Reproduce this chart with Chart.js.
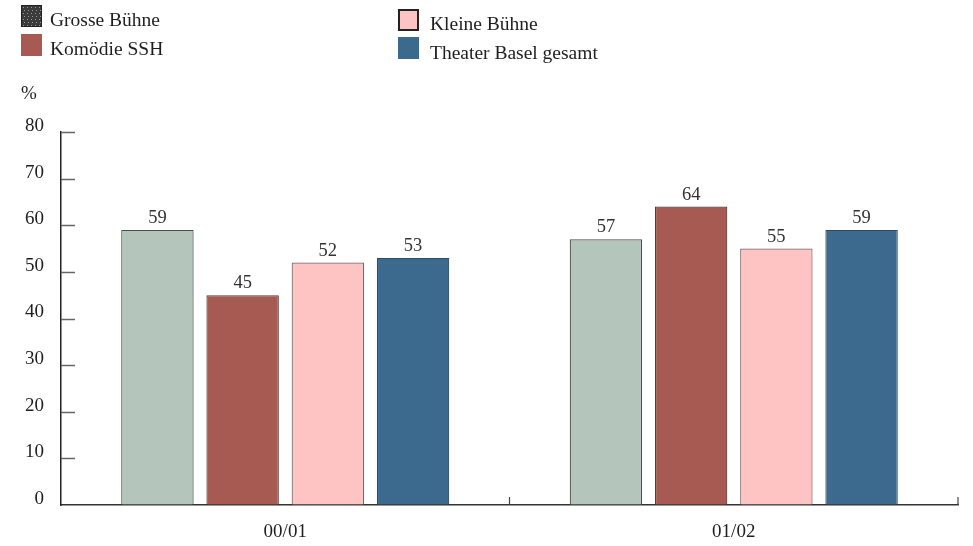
<!DOCTYPE html>
<html>
<head>
<meta charset="utf-8">
<script src="https://cdn.jsdelivr.net/npm/chart.js@4/dist/chart.umd.min.js"></script>
<style>
  html, body { margin: 0; padding: 0; background: #ffffff; }
  #wrap { width: 973px; height: 546px; }
</style>
</head>
<body>
<div id="wrap"><canvas id="c" width="973" height="546"></canvas></div>
<script>
// Saison-Kategorien und Auslastung in Prozent
const seasons = ['00/01', '01/02'];
const grosseBuehne = [59, 57];
const komoedieSSH = [45, 64];
const kleineBuehne = [52, 55];
const theaterGesamt = [53, 59];
const seriesNames = ['Grosse Bühne', 'Komödie SSH', 'Kleine Bühne', 'Theater Basel gesamt'];
const unitLabel = '%';

const SERIF = '"Liberation Serif", "Times New Roman", serif';
const barColors = ['#b4c5bc', '#a65a51', '#fec4c4', '#3c6a8f'];
const barBorders = ['#4a4f4c', '#5a3a36', '#7a6666', '#2f4a60'];
const swatchColors = ['#3b3b3b', '#a65a51', '#fec4c4', '#3c6a8f'];

// Legende in zwei Spalten, Werte über den Balken, Ticks nach innen
const decorations = {
  id: 'decorations',
  afterDraw(chart) {
    const ctx = chart.ctx;
    const area = chart.chartArea;
    const xs = chart.scales.x;
    const ys = chart.scales.y;
    ctx.save();

    // Legende
    const slots = [
      { bx: 21, by: 5, tx: 50, ty: 21 },
      { bx: 21, by: 34, tx: 50, ty: 50 },
      { bx: 398, by: 9, tx: 430, ty: 25 },
      { bx: 398, by: 37, tx: 430, ty: 54 }
    ];
    chart.data.datasets.forEach((ds, i) => {
      const s = slots[i];
      ctx.fillStyle = swatchColors[i];
      ctx.fillRect(s.bx, s.by, 21, 22);
      if (i === 0) {
        // gesprenkelte Füllung des Symbols
        ctx.fillStyle = '#9a9a9a';
        for (let yy = 2; yy < 21; yy += 3) {
          for (let xx = 2 + (yy % 2); xx < 20; xx += 4) {
            ctx.fillRect(s.bx + xx, s.by + yy, 1, 1);
          }
        }
        ctx.strokeStyle = '#222';
        ctx.lineWidth = 1;
        ctx.strokeRect(s.bx + 0.5, s.by + 0.5, 20, 21);
      }
      if (i === 2) {
        ctx.strokeStyle = '#222';
        ctx.lineWidth = 2;
        ctx.strokeRect(s.bx + 1, s.by + 1, 19, 20);
      }
      ctx.fillStyle = '#1e1e1e';
      ctx.font = '19.5px ' + SERIF;
      ctx.textAlign = 'left';
      ctx.textBaseline = 'middle';
      ctx.fillText(ds.label, s.tx, s.ty);
    });

    // Einheit über der y-Achse
    ctx.fillStyle = '#1e1e1e';
    ctx.font = '19px ' + SERIF;
    ctx.textAlign = 'left';
    ctx.textBaseline = 'middle';
    ctx.fillText(unitLabel, 21, 94);

    // y-Ticks nach innen
    ctx.strokeStyle = '#666';
    ctx.lineWidth = 1.5;
    ys.ticks.forEach(t => {
      if (t.value === 0) return;
      const py = Math.round(ys.getPixelForValue(t.value)) + 0.5;
      ctx.beginPath();
      ctx.moveTo(area.left, py);
      ctx.lineTo(area.left + 14, py);
      ctx.stroke();
    });

    // x-Ticks an den Kategoriegrenzen
    ctx.strokeStyle = '#444';
    ctx.lineWidth = 1.2;
    const n = chart.data.labels.length;
    for (let i = 0; i < n; i++) {
      const px = i < n - 1
        ? (xs.getPixelForTick(i) + xs.getPixelForTick(i + 1)) / 2
        : area.right;
      ctx.beginPath();
      ctx.moveTo(px, area.bottom);
      ctx.lineTo(px, area.bottom - 8);
      ctx.stroke();
    }

    // Werte über den Balken
    ctx.fillStyle = '#333';
    ctx.font = '18.5px ' + SERIF;
    ctx.textAlign = 'center';
    ctx.textBaseline = 'alphabetic';
    chart.data.datasets.forEach((ds, di) => {
      const meta = chart.getDatasetMeta(di);
      meta.data.forEach((bar, j) => {
        ctx.fillText(String(ds.data[j]), bar.x, bar.y - 7);
      });
    });

    ctx.restore();
  }
};

const seriesData = [grosseBuehne, komoedieSSH, kleineBuehne, theaterGesamt];

new Chart(document.getElementById('c'), {
  type: 'bar',
  data: {
    labels: seasons,
    datasets: seriesNames.map((name, i) => ({
      label: name,
      data: seriesData[i],
      backgroundColor: barColors[i],
      borderColor: barBorders[i],
      borderWidth: 1.2,
      borderSkipped: 'bottom',
      barPercentage: 0.85,
      categoryPercentage: 0.76
    }))
  },
  options: {
    responsive: false,
    devicePixelRatio: 1,
    animation: false,
    layout: { padding: { top: 132, right: 15, left: 0, bottom: 0 } },
    plugins: {
      legend: { display: false },
      tooltip: { enabled: false },
      title: { display: false }
    },
    scales: {
      x: {
        grid: { display: true, drawOnChartArea: false, drawTicks: false },
        border: { display: true, color: '#333', width: 1.5 },
        ticks: {
          color: '#1e1e1e',
          font: { family: SERIF, size: 19 },
          padding: 16
        },
        afterFit(scale) { scale.height = 41; }
      },
      y: {
        min: 0,
        max: 80,
        grid: { display: true, drawOnChartArea: false, drawTicks: false },
        border: { display: true, color: '#222', width: 1.5 },
        ticks: {
          stepSize: 10,
          color: '#1e1e1e',
          font: { family: SERIF, size: 19 },
          padding: 17,
          labelOffset: -6
        },
        afterFit(scale) { scale.width = 61; }
      }
    }
  },
  plugins: [decorations]
});
</script>
</body>
</html>
